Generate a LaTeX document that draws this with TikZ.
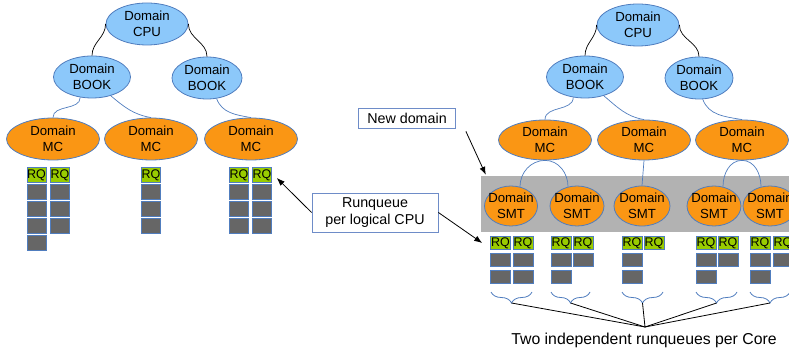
\documentclass[tikz,border=0pt]{standalone}
\usepackage{fontspec}
\setmainfont{Liberation Sans}
\usetikzlibrary{shapes.geometric,decorations.pathreplacing,arrows.meta}
\definecolor{domblue}{RGB}{140,200,250}
\definecolor{domorange}{RGB}{250,150,20}
\definecolor{edgeblue}{RGB}{80,125,190}
\definecolor{rqgreen}{RGB}{153,204,0}
\definecolor{qgray}{RGB}{102,102,102}
\definecolor{bandgray}{RGB}{178,178,178}
\definecolor{noteblue}{RGB}{110,140,200}

\begin{document}
\begin{tikzpicture}
[
x=1pt,y=1pt,
every node/.style={font=\fontsize{13.2}{15.5}\selectfont},
domain/.style 2 args={ellipse,draw=edgeblue,line width=0.8pt,fill=#1,inner sep=-4pt,
            minimum width=#2,minimum height=42pt,align=center},
rq/.style={draw=edgeblue,line width=0.6pt,fill=rqgreen,inner sep=0pt,minimum width=19pt,
            minimum height=15pt,font=\fontsize{12.5}{12.5}\selectfont},
entry/.style={rq,fill=qgray},
note/.style={draw=noteblue,line width=0.8pt,fill=white,inner sep=0pt,align=center,
            font=\fontsize{14.3}{16.5}\selectfont},
band/.style={fill=bandgray,inner sep=0pt,minimum width=319pt,minimum height=56pt},
link/.style={line width=0.7pt,draw=edgeblue},
toplink/.style={line width=0.7pt,draw=black},
pointer/.style={line width=0.8pt,-{Latex[length=8pt,width=6pt]}},
corebrace/.style={draw=edgeblue,line width=0.8pt,decorate,decoration={brace,mirror,amplitude=11pt}},
]
\useasboundingbox (0,0) rectangle (789,353);
\clip (0,0) rectangle (789,353);

%Left tree
\node[domain={domblue}{82pt}] (lcpu) at (147,329) {Domain\\CPU};
\node[domain={domblue}{77pt}] (lbookA) at (92,276) {Domain\\BOOK};
\node[domain={domblue}{70pt}] (lbookB) at (207,275) {Domain\\BOOK};
\node[domain={domorange}{93pt}] (lmcA) at (53,214) {Domain\\MC};
\node[domain={domorange}{93pt}] (lmcB) at (151,214) {Domain\\MC};
\node[domain={domorange}{93pt}] (lmcC) at (251,214) {Domain\\MC};

%Left runqueues
\foreach \x/\n/\k in {36.5/lqA/4, 60/lqB/3, 151/lqC/3, 239/lqD/3, 262/lqE/3}{
  \node[rq] (\n) at (\x,178) {RQ};
  \foreach \r in {1,...,\k} \node[entry] (\n\r) at (\x,{178-17*\r}) {};
}

%Right tree
\node[domain={domblue}{82pt}] (rcpu) at (638,328) {Domain\\CPU};
\node[domain={domblue}{77pt}] (rbookA) at (585,276) {Domain\\BOOK};
\node[domain={domblue}{68pt}] (rbookB) at (699,275) {Domain\\BOOK};
\node[domain={domorange}{93pt},minimum height=40pt] (rmcA) at (545,213) {Domain\\MC};
\node[domain={domorange}{93pt},minimum height=40pt] (rmcB) at (644,213) {Domain\\MC};
\node[domain={domorange}{93pt},minimum height=40pt] (rmcC) at (742,213) {Domain\\MC};

\node[band] (smtband) at (640.5,149) {};
\node[domain={domorange}{53pt},minimum height=40pt] (smtA) at (511,147) {Domain\\SMT};
\node[domain={domorange}{54pt},minimum height=40pt] (smtB) at (577,147) {Domain\\SMT};
\node[domain={domorange}{56pt},minimum height=40pt] (smtC) at (642,147) {Domain\\SMT};
\node[domain={domorange}{54pt},minimum height=40pt] (smtD) at (714,147) {Domain\\SMT};
\node[domain={domorange}{54pt},minimum height=40pt] (smtE) at (770,147) {Domain\\SMT};

%Right runqueues
\foreach \x/\n/\k in {500.5/rqA/2, 523/rqB/2, 561/rqC/2, 583/rqD/1, 632/rqE/2, 654/rqF/0,
                      706/rqG/2, 728/rqH/1, 760/rqI/2, 783/rqJ/1}{
  \node[rq,minimum width=20pt,minimum height=13pt] (\n) at (\x,110) {RQ};
  \ifnum\k>0
    \foreach \r in {1,...,\k} \node[entry,minimum width=20pt,minimum height=13pt] (\n\r) at (\x,{110-17*\r}) {};
  \fi
}

%Notes
\node[note,minimum width=97pt,minimum height=20pt] (newdom) at (407,235) {New domain};
\node[note,minimum width=126pt,minimum height=39pt] (rqnote) at (375,140.5) {Runqueue\\per logical CPU};
\node[font=\fontsize{15.8}{18}\selectfont] (coretext) at (644,13) {Two independent runqueues per Core};

%Braces
\draw[corebrace] (491,61) -- (532,61);
\draw[corebrace] (551,61) -- (590,61);
\draw[corebrace] (622,61) -- (663,61);
\draw[corebrace] (696,61) -- (737,61);
\draw[corebrace] (750,61) -- (790,61);
\coordinate (tipA) at (511.5,50);
\coordinate (tipB) at (570.5,50);
\coordinate (tipC) at (642.5,50);
\coordinate (tipD) at (716.5,50);
\coordinate (tipE) at (770,50);
\coordinate (core) at (645,26);

%Draw the connections
\draw[toplink] (lcpu.west) to[out=-90,in=90] (lbookA.north);
\draw[toplink] (lcpu.east) to[out=-90,in=90] (lbookB.north);
\draw[link] (lbookA.-120) to[out=-90,in=90] (lmcA.north);
\draw[link] (lbookA.-45) to[out=-40,in=170] (lmcB.north);
\draw[link] (lbookB.-65) to[out=-70,in=170] (lmcC.north);

\draw[toplink] (rcpu.west) to[out=-90,in=90] (rbookA.north);
\draw[toplink] (rcpu.east) to[out=-90,in=90] (rbookB.north);
\draw[link] (rbookA.-120) to[out=-90,in=90] (rmcA.north);
\draw[link] (rbookA.-45) to[out=-40,in=170] (rmcB.north);
\draw[link] (rbookB.-80) to[out=-70,in=170] (rmcC.north);

\draw[link] (smtA.65) to[out=90,in=180] (rmcA.south) to[out=0,in=90] (smtB.115);
\draw[link] (rmcB.south) -- (smtC.north);
\draw[link] (smtD.65) to[out=90,in=180] (rmcC.south) to[out=0,in=90] (smtE.115);

\draw[pointer] ([xshift=10pt,yshift=-3pt]newdom.south east) -- ([xshift=5pt,yshift=1pt]smtband.north west);
\draw[pointer] (rqnote.west) -- ([xshift=5pt,yshift=-3pt]lqE.east);
\draw[pointer] (rqnote.east) -- ([xshift=-8pt]rqA.west);

\foreach \t in {tipA,tipB,tipC,tipD,tipE} \draw[line width=0.8pt] (\t) -- (core);
\end{tikzpicture}
\end{document}
